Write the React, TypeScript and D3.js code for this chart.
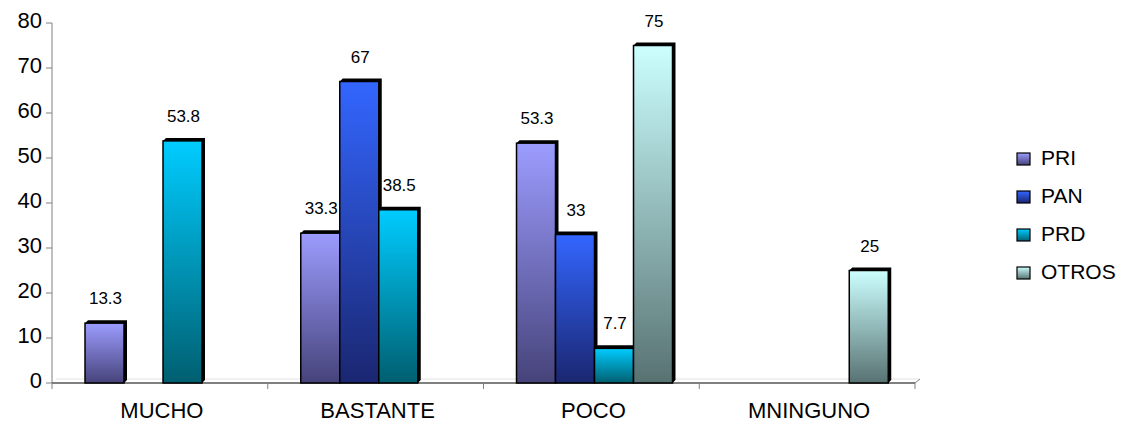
import React from "react";
import * as d3 from "d3";

const categories = ["MUCHO", "BASTANTE", "POCO", "MNINGUNO"];
const seriesNames = ["PRI", "PAN", "PRD", "OTROS"];
const PRI = [13.3, 33.3, 53.3, null];
const PAN = [null, 67, 33, null];
const PRD = [53.8, 38.5, 7.7, null];
const OTROS = [null, null, 75, 25];
const yTicks = [0, 10, 20, 30, 40, 50, 60, 70, 80];

const seriesValues = [PRI, PAN, PRD, OTROS];
const gradients = [
  ["#9c9cff", "#46437a"],
  ["#3366ff", "#1a2670"],
  ["#00ccff", "#005f70"],
  ["#ccffff", "#587272"],
];

export default function App() {
  const W = 1126, H = 424;
  const left = 52, right = 915, top = 23, bottom = 383;
  const y = d3.scaleLinear().domain([0, 80]).range([bottom, top]);
  const x0 = d3.scaleBand().domain(categories).range([left, right]).padding(0);
  const bw = x0.bandwidth();
  const x1 = d3.scaleBand().domain(seriesNames).range([bw * 0.153, bw * 0.153 + 156]).padding(0);
  const w = x1.bandwidth();
  const d = 3;
  const font = "Arial, 'Liberation Sans', sans-serif";

  return (
    <svg width={W} height={H} style={{ position: "absolute", left: 0, top: 0, background: "#fff" }} fontFamily={font}>
      <defs>
        {gradients.map((g, i) => (
          <linearGradient key={i} id={`g${i}`} x1="0" y1="0" x2="0" y2="1">
            <stop offset="0%" stopColor={g[0]} />
            <stop offset="100%" stopColor={g[1]} />
          </linearGradient>
        ))}
      </defs>
      {/* floor back line */}
      <line x1={left + 4} x2={right + 4} y1={bottom - 4} y2={bottom - 4} stroke="#e3e3e3" strokeWidth={1} />
      {/* y axis */}
      <line x1={left} x2={left} y1={top} y2={bottom} stroke="#808080" strokeWidth={1} />
      {yTicks.map((t) => (
        <g key={t}>
          <line x1={left - 6} x2={left} y1={y(t)} y2={y(t)} stroke="#808080" />
          <text x={left - 10} y={y(t) - 3} dy="0.36em" textAnchor="end" fontSize={22} fill="#000">{t}</text>
        </g>
      ))}
      {/* x axis */}
      <line x1={left} x2={right} y1={bottom} y2={bottom} stroke="#000" strokeWidth={1} />
      <line x1={right} x2={right + 5} y1={bottom} y2={bottom - 4} stroke="#808080" />
      {categories.map((c) => (
        <line key={c} x1={x0(c)!} x2={x0(c)!} y1={bottom} y2={bottom + 6} stroke="#808080" />
      ))}
      <line x1={right} x2={right} y1={bottom} y2={bottom + 6} stroke="#808080" />
      {categories.map((c) => (
        <text key={c} x={x0(c)! + bw / 2 + 2} y={418} textAnchor="middle" fontSize={22} fill="#000">{c}</text>
      ))}
      {/* bars */}
      {categories.map((c, ci) =>
        seriesNames.map((s, si) => {
          const v = seriesValues[si][ci];
          if (v == null) return null;
          const bx = x0(c)! + x1(s)!;
          const by = y(v);
          const shadow = `M${bx},${by} L${bx + d},${by - d} L${bx + w + d},${by - d} L${bx + w + d},${bottom - d} L${bx + w},${bottom} Z`;
          return (
            <g key={c + s}>
              <path d={shadow} fill="#000" />
              <rect x={bx} y={by} width={w} height={bottom - by} fill={`url(#g${si})`} stroke="#000" strokeWidth={1.5} />
              <text x={bx + w / 2 + 1} y={by - 19} textAnchor="middle" fontSize={17} fill="#000">{v}</text>
            </g>
          );
        })
      )}
      {/* legend */}
      {seriesNames.map((s, i) => (
        <g key={s} transform={`translate(1017, ${153 + i * 38})`}>
          <rect x={0} y={0} width={13} height={12} fill={`url(#g${i})`} stroke="#000" strokeWidth={1.2} />
          <text x={24} y={12} fontSize={21} fill="#000">{s}</text>
        </g>
      ))}
    </svg>
  );
}
